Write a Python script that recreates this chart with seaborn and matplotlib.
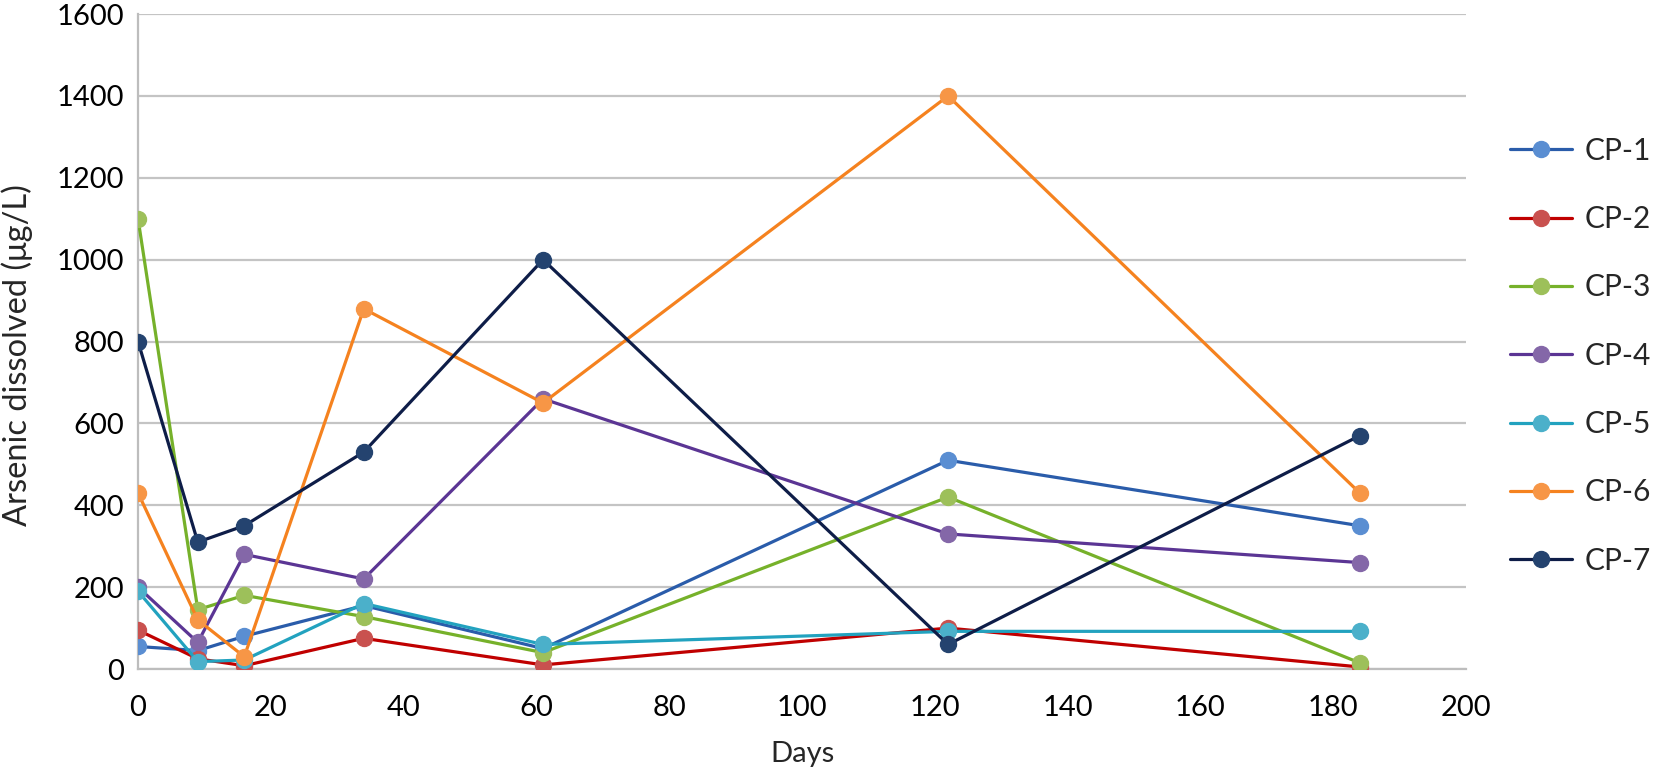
import pandas as pd
import matplotlib
matplotlib.use("Agg")
import matplotlib.pyplot as plt
import seaborn as sns

# --- data ---
days = [0, 9, 16, 34, 61, 122, 184]
series_names = ["CP-1", "CP-2", "CP-3", "CP-4", "CP-5", "CP-6", "CP-7"]
cp1 = [55, 45, 80, 155, 50, 510, 350]
cp2 = [95, 25, 8, 75, 10, 100, 5]
cp3 = [1100, 145, 180, 128, 40, 420, 15]
cp4 = [200, 65, 280, 220, 660, 330, 260]
cp5 = [190, 18, 22, 160, 60, 92, 92]
cp6 = [430, 120, 30, 880, 650, 1400, 430]
cp7 = [800, 310, 350, 530, 1000, 60, 570]
y_ticks = [0, 200, 400, 600, 800, 1000, 1200, 1400, 1600]
x_ticks = [0, 20, 40, 60, 80, 100, 120, 140, 160, 180, 200]

line_colors = ["#2A5CAA", "#C00000", "#76B12A", "#5B3594", "#22A2BF", "#F5821F", "#0E1D48"]
marker_colors = ["#5A8ED2", "#C9514F", "#9DC05A", "#8467A8", "#4BB0CA", "#F79646", "#24436F"]

df = pd.DataFrame({"Days": days, "CP-1": cp1, "CP-2": cp2, "CP-3": cp3, "CP-4": cp4,
                   "CP-5": cp5, "CP-6": cp6, "CP-7": cp7})
long_df = df.melt(id_vars="Days", var_name="series", value_name="As")

sns.set_theme(style="white")
plt.rcParams['font.family'] = ['Lato', 'DejaVu Sans']

fig = plt.figure(figsize=(16.55, 7.8), dpi=100)
ax = fig.add_axes([0.0834, 0.1423, 0.8024, 0.8397])

for i, name in enumerate(series_names):
    sub = long_df[long_df["series"] == name]
    sns.lineplot(data=sub, x="Days", y="As", ax=ax, color=line_colors[i], lw=2.3,
                 marker="o", markersize=11.5, markerfacecolor=marker_colors[i],
                 markeredgecolor=marker_colors[i], markeredgewidth=1, label=name,
                 sort=False, zorder=3 + i)

ax.set_xlim(0, 200)
ax.set_ylim(0, 1600)
ax.set_xticks(x_ticks)
ax.set_yticks(y_ticks)
ax.yaxis.grid(True, color="#C4C4C4", lw=1.6)
ax.xaxis.grid(False)
for s in ["top", "right"]:
    ax.spines[s].set_visible(False)
for s in ["left", "bottom"]:
    ax.spines[s].set_color("#BDBDBD")
    ax.spines[s].set_linewidth(1.6)
ax.tick_params(axis="both", length=0, labelsize=21, colors="black")
ax.tick_params(axis="x", pad=19)
ax.tick_params(axis="y", pad=10)
ax.set_xlabel("Days", fontsize=21, labelpad=14)
ax.set_ylabel("Arsenic dissolved (μg/L)", fontsize=23.5)
ax.yaxis.set_label_coords(-0.079, 0.48)

handles, labels = ax.get_legend_handles_labels()
ax.get_legend().remove()
fig.legend(handles, labels, loc="upper left", bbox_to_anchor=(0.905, 0.84),
           frameon=False, fontsize=21.5, handlelength=2.1, handletextpad=0.42,
           labelspacing=1.35, borderaxespad=0)

fig.savefig("out.png", dpi=100)
